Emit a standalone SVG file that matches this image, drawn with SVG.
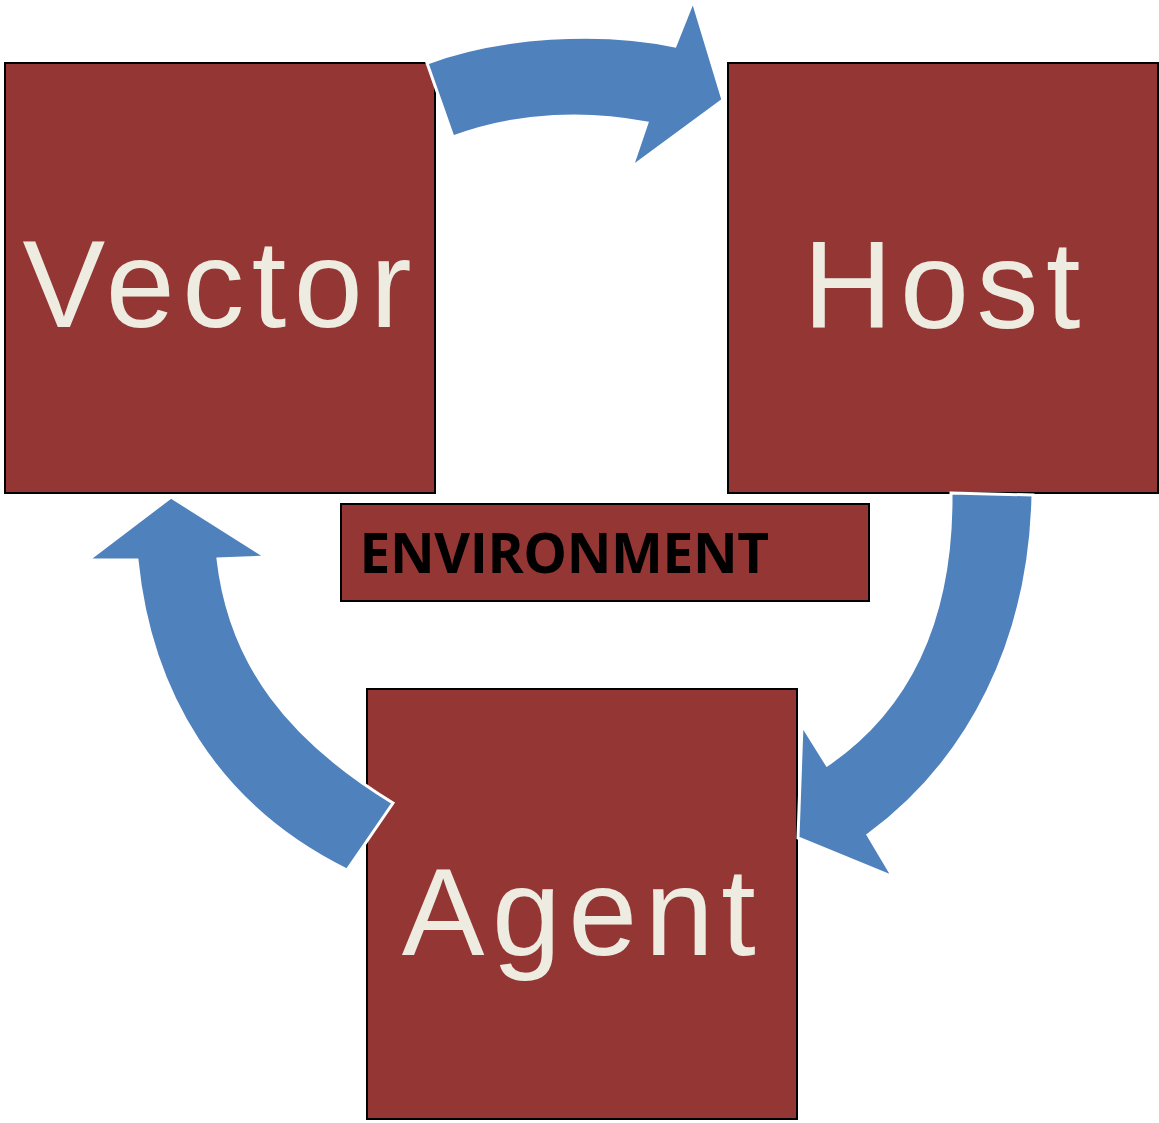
<svg xmlns="http://www.w3.org/2000/svg" width="1159" height="1123" viewBox="0 0 1159 1123">
<style>
.box{fill:#943634;stroke:#000;stroke-width:2}
.lbl{font-family:"Liberation Sans",Arial,sans-serif;font-size:124px;fill:#EEECE1;letter-spacing:7.5px}
.env{font-family:"Open Sans","Noto Sans",sans-serif;font-weight:700;font-size:55px;fill:#000;letter-spacing:-0.4px}
.arr{fill:#4F81BD;stroke:#fff;stroke-width:3;stroke-linejoin:miter}
</style>
<rect width="1159" height="1123" fill="#fff"/>
<g id="vector">
<rect class="box" x="5" y="63" width="430" height="430"/>
<text class="lbl" x="22.4" y="327">Vector</text>
</g>
<g id="host">
<rect class="box" x="728" y="63" width="430" height="430"/>
<text class="lbl" x="803" y="328">Host</text>
</g>
<g id="environment">
<rect class="box" x="341" y="504" width="528" height="97"/>
<text class="env" x="359.6" y="573">ENVIRONMENT</text>
</g>
<g id="agent">
<rect class="box" x="367" y="689" width="430" height="430"/>
<text class="lbl" x="401.7" y="955">Agent</text>
</g>
<g id="connectors">
<path class="arr" d="M427,63 C500,36 600,30 675,46 L693,1 L723,100 L632,167 L647,123 C590,112 520,112 453,137 Z"/>
<path class="arr" d="M951,493 L1033,495 C1030,640 970,760 868,835 L893,877 L798,838 L802,725 L827,765 C915,705 952,610 951,493 Z"/>
<path class="arr" d="M137,560 L88,560 L171,497 L266,557 L218,559 C230,665 290,740 393,803 L347,870 C215,805 150,690 137,560 Z"/>
</g>
</svg>
